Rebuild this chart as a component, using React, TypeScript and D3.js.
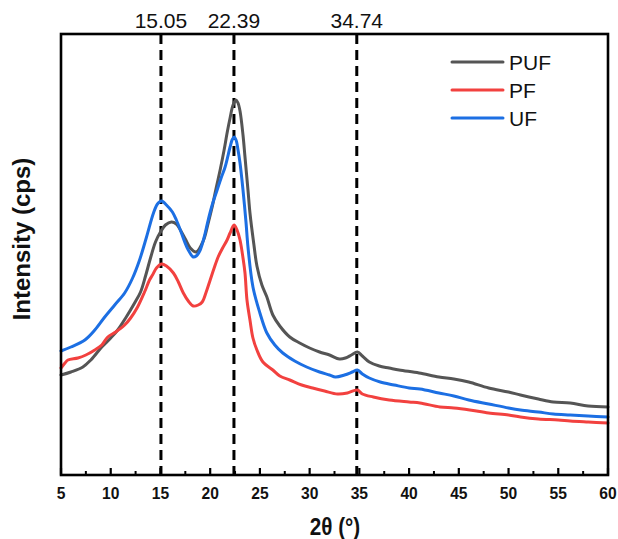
import React from "react";
import * as d3 from "d3";

// 2θ (degrees) / intensity (a.u.) pairs
const pufData: [number, number][] = [
  [5,102],[6,105],[7.2,110],[8,117],[9.1,130],[10,139],[10.7,147],[11.5,159],[12.4,174],[13,185],[13.5,201],[14,219],[14.5,235],[15,245],[15.5,252],[16.1,255],[16.6,253],[17,247],[17.5,238],[18,229],[18.6,225],[19.3,236],[19.8,254],[20.2,270],[20.6,289],[21,307],[21.4,327],[21.7,344],[22,359],[22.3,372],[22.6,377],[22.8,374],[23,366],[23.3,342],[23.5,320],[23.8,287],[24,264],[24.4,232],[24.7,211],[25.2,192],[25.7,180],[26.3,162],[27,151],[28,140],[29,134],[30,129],[31,125],[32,122],[33,118],[33.6,119],[34.2,122],[34.8,125],[35.3,121],[36,115],[37,111],[38,109],[39,107],[41,104],[43,100],[44.5,98],[46,95],[48,89],[50,85],[51.2,82],[53,78],[54.5,75],[56.2,74],[58,71],[60,70],
];
const pfData: [number, number][] = [
  [5,109],[5.4,114],[5.7,117],[6.7,119],[7.5,122],[8.4,127],[9.1,132],[9.7,140],[10.5,145],[11.4,152],[12,159],[12.7,170],[13.4,185],[13.9,197],[14.2,202],[14.6,209],[15.1,213],[15.6,211],[16.3,204],[16.8,195],[17.3,184],[17.8,176],[18.3,171],[18.8,172],[19.2,175],[19.6,185],[20,197],[20.4,209],[20.8,220],[21.2,228],[21.7,237],[22,244],[22.4,252],[22.7,247],[23,237],[23.3,219],[23.5,204],[23.7,177],[24,157],[24.3,139],[24.7,127],[25.3,115],[26.3,107],[27,101],[28,97],[29.2,92],[30.3,89],[31.5,86],[32.8,83],[33.8,84],[34.8,87],[35.3,83],[36.4,80],[38,77],[40,75],[41.1,74],[43.1,70],[44.5,69],[46.1,67],[48,64],[50,62],[51.2,60],[53,58],[55,57],[56.2,56],[58,55],[60,54],
];
const ufData: [number, number][] = [
  [5,126],[6,130],[7.4,137],[8.4,147],[9.4,160],[10.4,172],[11.4,184],[12.2,199],[12.9,217],[13.6,240],[14.3,264],[14.7,273],[15.1,276],[15.6,272],[16.2,265],[16.6,257],[17,247],[17.4,236],[17.8,227],[18.3,220],[18.6,221],[19,227],[19.4,240],[19.8,257],[20.2,272],[20.7,287],[21.1,299],[21.5,310],[22,330],[22.2,337],[22.4,340],[22.6,337],[22.8,327],[23,314],[23.3,287],[23.6,255],[23.8,230],[24.3,190],[25,164],[25.7,144],[26.5,132],[27.3,124],[28.5,116],[29.7,110],[31,105],[32,102],[32.6,100],[33.5,102],[34.3,105],[34.8,107],[35.3,103],[36,99],[37.1,95],[38.5,92],[40,89],[41.1,88],[43,84],[44.5,81],[46,77],[48,73],[50,69],[51.2,67],[53,65],[54.5,63],[56.2,62],[58,61],[60,60],
];

const seriesNames = ["PUF", "PF", "UF"];
const seriesColors = ["#555555", "#f2413f", "#1c6fe3"];
const seriesData = [pufData, pfData, ufData];

const peakPositions = [15.05, 22.39, 34.74];
const peakLabels = ["15.05", "22.39", "34.74"];
const xTickValues = [5, 10, 15, 20, 25, 30, 35, 40, 45, 50, 55, 60];
const xMinorTicks = [7.5, 12.5, 17.5, 22.5, 27.5, 32.5, 37.5, 42.5, 47.5, 52.5, 57.5];

const W = 618;
const H = 539;
const left = 61;
const right = 608;
const top = 34;
const bottom = 475;

export default function App() {
  const x = d3.scaleLinear().domain([5, 60]).range([left, right]);
  const y = d3.scaleLinear().domain([2, 443]).range([bottom, top]);
  const line = d3
    .line<[number, number]>()
    .x((d) => x(d[0]))
    .y((d) => y(d[1]))
    .curve(d3.curveCatmullRom.alpha(0.5));

  const font = "'Liberation Sans', Arial, sans-serif";

  return (
    <div style={{ position: "absolute", left: 0, top: 0 }}>
      <svg width={W} height={H} style={{ display: "block", background: "#fff" }} fontFamily={font}>
        <rect x={0} y={0} width={W} height={H} fill="#fff" />
        {/* dashed reference lines */}
        {peakPositions.map((p, i) => (
          <line
            key={"d" + i}
            x1={x(p)}
            x2={x(p)}
            y1={top}
            y2={bottom}
            stroke="#000"
            strokeWidth={3}
            strokeDasharray="10,6"
          />
        ))}
        {/* series */}
        {seriesData.map((d, i) => (
          <path
            key={"s" + i}
            d={line(d) || ""}
            fill="none"
            stroke={seriesColors[i]}
            strokeWidth={3}
            strokeLinejoin="round"
            strokeLinecap="round"
          />
        ))}
        {/* frame */}
        <rect
          x={left}
          y={top}
          width={right - left}
          height={bottom - top}
          fill="none"
          stroke="#000"
          strokeWidth={2.6}
        />
        {/* ticks */}
        {xTickValues.map((t) => (
          <line key={"t" + t} x1={x(t)} x2={x(t)} y1={bottom} y2={bottom - 7} stroke="#000" strokeWidth={2.2} />
        ))}
        {xMinorTicks.map((t) => (
          <line key={"m" + t} x1={x(t)} x2={x(t)} y1={bottom} y2={bottom - 4} stroke="#000" strokeWidth={2} />
        ))}
        {xTickValues.map((t) => (
          <text
            key={"l" + t}
            transform={`translate(${x(t)},${bottom + 24}) scale(0.92,1)`}
            textAnchor="middle"
            fontSize={17}
            fontWeight="bold"
            fill="#111"
          >
            {t}
          </text>
        ))}
        {/* peak labels */}
        {peakPositions.map((p, i) => (
          <text key={"p" + i} x={x(p)} y={28} textAnchor="middle" fontSize={21} fill="#111">
            {peakLabels[i]}
          </text>
        ))}
        {/* axis titles */}
        <text
          transform={`translate(335,535) scale(0.9,1)`}
          textAnchor="middle"
          fontSize={23}
          fontWeight="bold"
          fill="#111"
        >
          2θ (°)
        </text>
        <text
          transform={`translate(30,239) rotate(-90)`}
          textAnchor="middle"
          fontSize={24}
          fontWeight="bold"
          fill="#111"
        >
          Intensity (cps)
        </text>
        {/* legend */}
        {seriesNames.map((n, i) => (
          <g key={"g" + i} transform={`translate(452,${62 + i * 28})`}>
            <line x1={0} x2={51} y1={0} y2={0} stroke={seriesColors[i]} strokeWidth={3} strokeLinecap="round" />
            <text x={57} y={7.5} fontSize={21} fill="#111">
              {n}
            </text>
          </g>
        ))}
      </svg>
    </div>
  );
}
